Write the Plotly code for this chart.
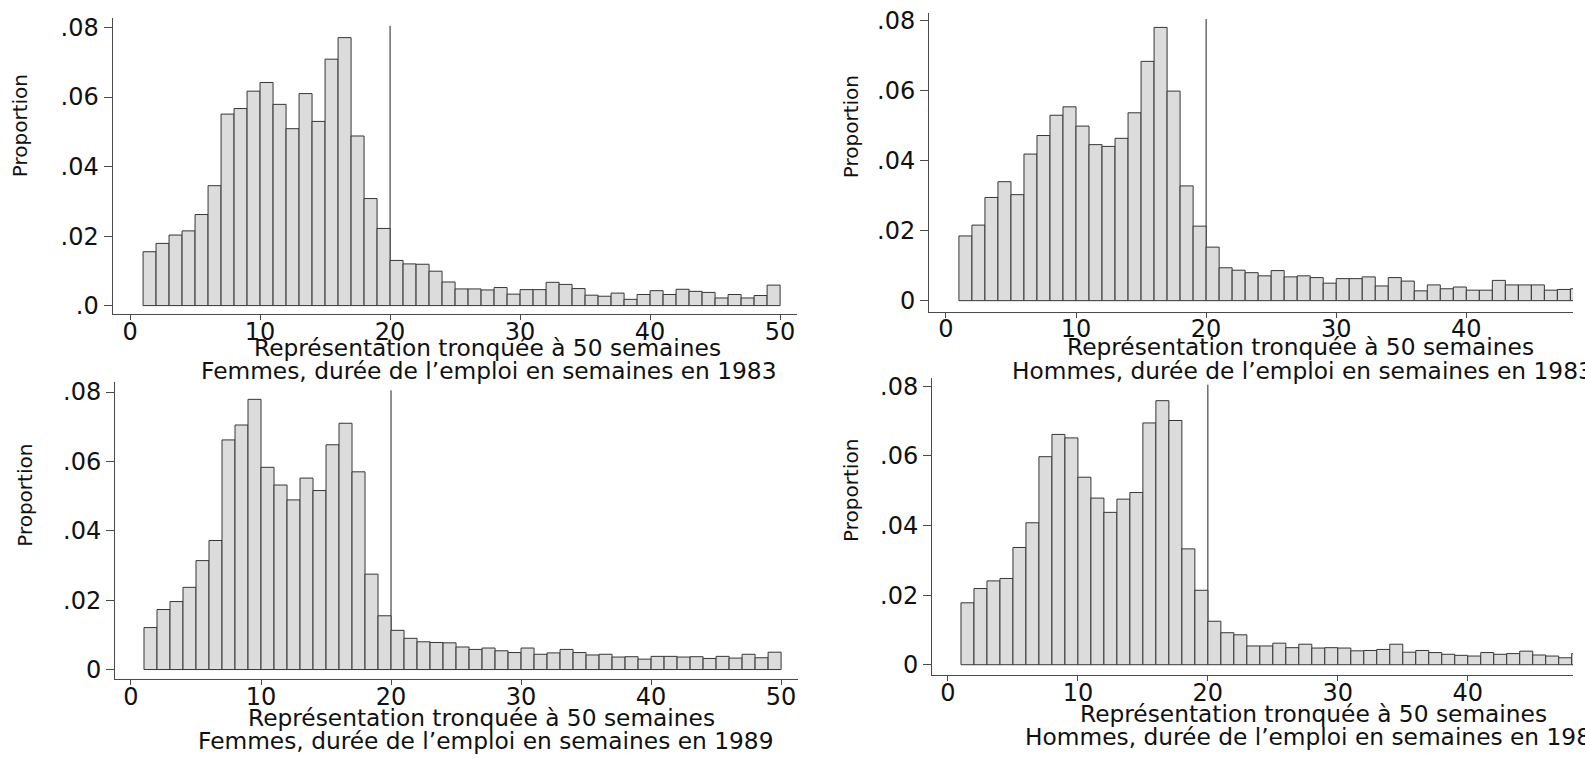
import plotly.graph_objects as go

W, H = 1585, 760

weeks = list(range(1, 50))

femmes_1983 = [0.0155, 0.0179, 0.0203, 0.0215, 0.0262, 0.0345, 0.0551, 0.0567, 0.0617, 0.0642,
               0.0579, 0.0509, 0.0610, 0.0530, 0.0709, 0.0771, 0.0488, 0.0308, 0.0222, 0.0130,
               0.0120, 0.0119, 0.0099, 0.0068, 0.0048, 0.0048, 0.0045, 0.0052, 0.0033, 0.0046,
               0.0046, 0.0067, 0.0061, 0.0049, 0.0030, 0.0027, 0.0036, 0.0018, 0.0032, 0.0043,
               0.0032, 0.0047, 0.0041, 0.0038, 0.0022, 0.0032, 0.0022, 0.0029, 0.0059]

hommes_1983 = [0.0185, 0.0216, 0.0295, 0.0340, 0.0303, 0.0419, 0.0472, 0.0530, 0.0554, 0.0499,
               0.0446, 0.0441, 0.0464, 0.0537, 0.0684, 0.0781, 0.0599, 0.0328, 0.0213, 0.0153,
               0.0094, 0.0087, 0.0080, 0.0071, 0.0086, 0.0068, 0.0071, 0.0066, 0.0050, 0.0063,
               0.0063, 0.0068, 0.0042, 0.0066, 0.0056, 0.0028, 0.0045, 0.0034, 0.0039, 0.0030,
               0.0030, 0.0058, 0.0045, 0.0045, 0.0045, 0.0030, 0.0032, 0.0034, 0.0036]

femmes_1989 = [0.0121, 0.0173, 0.0196, 0.0237, 0.0314, 0.0372, 0.0662, 0.0705, 0.0779, 0.0583,
               0.0532, 0.0489, 0.0552, 0.0516, 0.0648, 0.0710, 0.0570, 0.0275, 0.0155, 0.0113,
               0.0090, 0.0080, 0.0078, 0.0077, 0.0065, 0.0058, 0.0062, 0.0054, 0.0049, 0.0062,
               0.0044, 0.0048, 0.0058, 0.0049, 0.0042, 0.0044, 0.0036, 0.0037, 0.0030, 0.0038,
               0.0038, 0.0036, 0.0037, 0.0032, 0.0038, 0.0033, 0.0044, 0.0034, 0.0050]

hommes_1989 = [0.0178, 0.0219, 0.0241, 0.0248, 0.0337, 0.0408, 0.0598, 0.0662, 0.0652, 0.0539,
               0.0479, 0.0438, 0.0476, 0.0495, 0.0695, 0.0759, 0.0702, 0.0333, 0.0214, 0.0125,
               0.0092, 0.0086, 0.0054, 0.0054, 0.0062, 0.0049, 0.0059, 0.0048, 0.0049, 0.0048,
               0.0040, 0.0041, 0.0044, 0.0059, 0.0036, 0.0041, 0.0035, 0.0030, 0.0027, 0.0025,
               0.0035, 0.0030, 0.0032, 0.0039, 0.0028, 0.0025, 0.0020, 0.0032, 0.0030]

x_ticks = [0, 10, 20, 30, 40, 50]
y_ticks = [0, 0.02, 0.04, 0.06, 0.08]
y_labels_a = [".0", ".02", ".04", ".06", ".08"]
y_labels_b = ["0", ".02", ".04", ".06", ".08"]

y_title = "Proportion"
x_title_1 = "Représentation tronquée à 50 semaines"
subtitles = [
    "Femmes, durée de l’emploi en semaines en 1983",
    "Hommes, durée de l’emploi en semaines en 1983",
    "Femmes, durée de l’emploi en semaines en 1989",
    "Hommes, durée de l’emploi en semaines en 1989",
]
series = [femmes_1983, hommes_1983, femmes_1989, hommes_1989]
cutoff = 20

# panel geometry in pixels: (x_left, x_right, y_bottom, y_top), axis ranges
panels = [
    dict(px=(112.5, 797), py=(313, 12), xr=(-1.35, 51.3), yr=(-0.00255, 0.0828), yl=y_labels_a,
         ytitle=(20, 122), t1=(487, 347), t2=(489, 370)),
    dict(px=(929, 1573), py=(310, 7), xr=(-1.3, 48.2), yr=(-0.0031, 0.08225), yl=y_labels_b,
         ytitle=(851, 123), t1=(1300, 346), t2=(1302, 370)),
    dict(px=(115, 798), py=(683, 382), xr=(-1.23, 51.3), yr=(-0.00276, 0.08276), yl=y_labels_b,
         ytitle=(25, 497), t1=(482, 722), t2=(486, 745)),
    dict(px=(932, 1573), py=(679, 377), xr=(-1.23, 48.1), yr=(-0.003, 0.08255), yl=y_labels_b,
         ytitle=(851, 492), t1=(1313, 718), t2=(1315, 741)),
]

FONT = "DejaVu Sans"
AX = "#4a4a4a"
TICK_SIZE = 24
CAP_SIZE = 23.3

fig = go.Figure()
layout = dict(width=W, height=H, margin=dict(l=0, r=0, t=0, b=0),
              paper_bgcolor="white", plot_bgcolor="white", showlegend=False,
              annotations=[], shapes=[])

def fx(p):
    return p / W

def fy(p):
    return 1 - p / H

for i, (p, vals, sub) in enumerate(zip(panels, series, subtitles)):
    n = "" if i == 0 else str(i + 1)
    xa, ya = "x" + n, "y" + n
    fig.add_trace(go.Bar(
        x=[w + 0.5 for w in weeks], y=vals, width=1,
        marker=dict(color="#dcdcdc", line=dict(color="#363636", width=1)),
        xaxis=xa, yaxis=ya, hoverinfo="skip"))
    layout["xaxis" + n] = dict(
        domain=[fx(p["px"][0]), fx(p["px"][1])], range=list(p["xr"]), anchor=ya,
        tickmode="array", tickvals=x_ticks, showline=True, linecolor=AX, linewidth=1,
        ticks="outside", ticklen=5, tickcolor=AX, tickwidth=1, ticklabelstandoff=-9,
        showgrid=False, zeroline=False, tickfont=dict(family=FONT, size=TICK_SIZE, color="#111"))
    layout["yaxis" + n] = dict(
        domain=[fy(p["py"][0]), fy(p["py"][1])], range=list(p["yr"]), anchor=xa,
        tickmode="array", tickvals=y_ticks, ticktext=p["yl"], showline=True,
        linecolor=AX, linewidth=1, ticks="outside", ticklen=8, tickcolor=AX, tickwidth=1,
        showgrid=False, zeroline=False, tickfont=dict(family=FONT, size=TICK_SIZE, color="#111"))
    layout["shapes"].append(dict(type="line", xref=xa, yref=ya, x0=cutoff, x1=cutoff,
                                 y0=0, y1=0.0805, line=dict(color="#222", width=1), layer="below"))
    layout["annotations"].append(dict(
        text=y_title, textangle=-90, xref="paper", yref="paper",
        x=fx(p["ytitle"][0]), y=fy(p["ytitle"][1]), xanchor="center", yanchor="middle",
        showarrow=False, font=dict(family=FONT, size=20, color="#111")))
    layout["annotations"].append(dict(
        text=x_title_1, xref="paper", yref="paper",
        x=fx(p["t1"][0]), y=fy(p["t1"][1]), xanchor="center", yanchor="middle",
        showarrow=False, font=dict(family=FONT, size=CAP_SIZE, color="#111")))
    layout["annotations"].append(dict(
        text=sub, xref="paper", yref="paper",
        x=fx(p["t2"][0]), y=fy(p["t2"][1]), xanchor="center", yanchor="middle",
        showarrow=False, font=dict(family=FONT, size=CAP_SIZE, color="#111")))

fig.update_layout(**layout)
fig.write_html("out.html")
